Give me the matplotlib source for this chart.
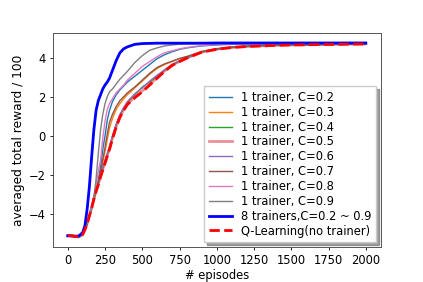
import matplotlib
matplotlib.use("Agg")
import matplotlib.pyplot as plt

plt.rcParams['font.size'] = 8.3
plt.rcParams['xtick.major.size'] = 2.5
plt.rcParams['ytick.major.size'] = 2.5
plt.rcParams['xtick.major.pad'] = 2.5
plt.rcParams['ytick.major.pad'] = 2.5
plt.rcParams['xtick.major.width'] = 0.6
plt.rcParams['ytick.major.width'] = 0.6
plt.rcParams['axes.linewidth'] = 0.7

# episode grid shared by all curves
episodes = [0, 25, 50, 75, 100, 115, 130, 145, 160, 175, 190, 205, 220, 235, 250,
            265, 280, 300, 325, 350, 375, 400, 450, 500, 550, 600, 650, 700, 750,
            800, 900, 1000, 1100, 1200, 1300, 1400, 1500, 1600, 1700, 1800, 1900, 2000]

# averaged total reward / 100
r_c02 = [-5.1, -5.12, -5.14, -5.17, -5.05, -4.78, -4.45, -4.05, -3.6, -3.15, -2.7, -2.25, -1.6, -0.7, 0.0,
         0.8, 1.3, 1.75, 2.1, 2.35, 2.55, 2.75, 3.05, 3.35, 3.65, 3.95, 4.15, 4.3, 4.42,
         4.5, 4.6, 4.65, 4.68, 4.7, 4.71, 4.71, 4.72, 4.72, 4.72, 4.72, 4.73, 4.73]
r_c03 = [-5.1, -5.12, -5.14, -5.17, -5.05, -4.8, -4.5, -4.1, -3.7, -3.25, -2.85, -2.45, -1.9, -1.35, -0.8,
         -0.2, 0.4, 0.9, 1.35, 1.65, 1.9, 2.1, 2.45, 2.8, 3.15, 3.45, 3.65, 3.8, 3.95,
         4.05, 4.3, 4.45, 4.53, 4.58, 4.62, 4.64, 4.66, 4.67, 4.68, 4.69, 4.7, 4.71]
r_c04 = [-5.1, -5.12, -5.14, -5.17, -5.05, -4.8, -4.5, -4.08, -3.68, -3.2, -2.8, -2.42, -2.02, -1.68, -1.3,
         -0.95, -0.6, -0.05, 0.55, 1.05, 1.4, 1.72, 2.1, 2.5, 2.75, 3.05, 3.35, 3.62, 3.82,
         3.99, 4.29, 4.44, 4.52, 4.57, 4.61, 4.63, 4.65, 4.66, 4.67, 4.68, 4.69, 4.7]
r_c05 = [-5.1, -5.12, -5.14, -5.18, -5.05, -4.8, -4.5, -4.1, -3.7, -3.22, -2.83, -2.48, -2.08, -1.72, -1.38,
         -1.02, -0.66, -0.12, 0.48, 0.98, 1.33, 1.63, 1.98, 2.3, 2.63, 2.98, 3.32, 3.62, 3.81,
         3.99, 4.29, 4.43, 4.52, 4.57, 4.6, 4.63, 4.65, 4.66, 4.67, 4.68, 4.69, 4.7]
r_c06 = [-5.1, -5.12, -5.14, -5.17, -5.05, -4.79, -4.48, -4.06, -3.66, -3.2, -2.78, -2.4, -2.0, -1.62, -1.25,
         -0.9, -0.55, 0.0, 0.6, 1.08, 1.45, 1.75, 2.15, 2.45, 2.8, 3.1, 3.38, 3.65, 3.84,
         4.0, 4.3, 4.44, 4.53, 4.58, 4.61, 4.63, 4.65, 4.66, 4.67, 4.68, 4.69, 4.7]
r_c07 = [-5.1, -5.12, -5.14, -5.17, -5.05, -4.8, -4.5, -4.1, -3.7, -3.25, -2.8, -2.4, -1.8, -1.2, -0.6,
         0.1, 0.7, 1.1, 1.5, 1.8, 2.0, 2.2, 2.5, 2.85, 3.2, 3.5, 3.68, 3.82, 3.96,
         4.06, 4.31, 4.45, 4.53, 4.58, 4.62, 4.64, 4.66, 4.67, 4.68, 4.69, 4.7, 4.71]
r_c08 = [-5.1, -5.12, -5.14, -5.17, -5.05, -4.75, -4.4, -4.05, -3.6, -3.1, -2.5, -1.8, -1.25, -0.1, 0.75,
         1.35, 1.65, 1.9, 2.2, 2.4, 2.6, 2.85, 3.2, 3.55, 3.8, 4.05, 4.25, 4.35, 4.45,
         4.52, 4.62, 4.67, 4.7, 4.71, 4.72, 4.72, 4.72, 4.73, 4.73, 4.73, 4.73, 4.73]
r_c09 = [-5.1, -5.12, -5.14, -5.17, -5.02, -4.7, -4.4, -4.1, -3.7, -3.2, -2.2, -0.9, 0.3, 1.1, 1.65,
         2.0, 2.25, 2.4, 2.65, 2.9, 3.1, 3.3, 3.75, 4.1, 4.38, 4.5, 4.6, 4.65, 4.69,
         4.7, 4.72, 4.72, 4.73, 4.73, 4.73, 4.73, 4.73, 4.73, 4.74, 4.74, 4.74, 4.74]
r_multi = [-5.12, -5.12, -5.14, -5.12, -4.95, -4.6, -3.75, -2.6, -1.1, 0.3, 1.3, 1.8, 2.1, 2.4, 2.6,
           2.75, 2.95, 3.35, 3.85, 4.25, 4.45, 4.55, 4.68, 4.72, 4.73, 4.74, 4.74, 4.74, 4.74,
           4.74, 4.74, 4.75, 4.75, 4.75, 4.75, 4.75, 4.75, 4.75, 4.75, 4.75, 4.75, 4.75]
r_qlearn = [-5.1, -5.12, -5.14, -5.18, -5.05, -4.8, -4.5, -4.1, -3.7, -3.25, -2.85, -2.5, -2.1, -1.75, -1.4,
            -1.05, -0.7, -0.15, 0.45, 0.95, 1.3, 1.6, 1.95, 2.25, 2.6, 2.95, 3.3, 3.6, 3.8,
            3.98, 4.28, 4.43, 4.52, 4.57, 4.6, 4.63, 4.65, 4.66, 4.67, 4.68, 4.69, 4.7]

single_runs = [r_c02, r_c03, r_c04, r_c05, r_c06, r_c07, r_c08, r_c09]
c_values = ['0.2', '0.3', '0.4', '0.5', '0.6', '0.7', '0.8', '0.9']

fig, ax = plt.subplots(figsize=(4.23, 2.82), dpi=100)
fig.subplots_adjust(left=0.125, right=0.9, top=0.882, bottom=0.125)

for i, (vals, c) in enumerate(zip(single_runs, c_values)):
    if c == '0.5':
        ax.plot(episodes, vals, color='C3', linewidth=2, alpha=0.5, label='1 trainer, C=' + c)
    else:
        ax.plot(episodes, vals, color='C%d' % i, linewidth=1, label='1 trainer, C=' + c)

ax.plot(episodes, r_multi, color='blue', linewidth=2, label='8 trainers,C=0.2 ~ 0.9')
ax.plot(episodes, r_qlearn, color='red', linewidth=2, linestyle='--', label='Q-Learning(no trainer)')

for sp in ax.spines.values():
    sp.set_color('#555555')

ax.set_xticks([0, 250, 500, 750, 1000, 1250, 1500, 1750, 2000])
ax.set_xlabel('# episodes', labelpad=2)
ax.set_ylabel('averaged total reward / 100', fontsize=8.8, labelpad=3)
ax.legend(loc='lower right', shadow=True, fancybox=False, labelspacing=0.16,
          borderaxespad=0.4)

fig.savefig('out.png', dpi=100)
